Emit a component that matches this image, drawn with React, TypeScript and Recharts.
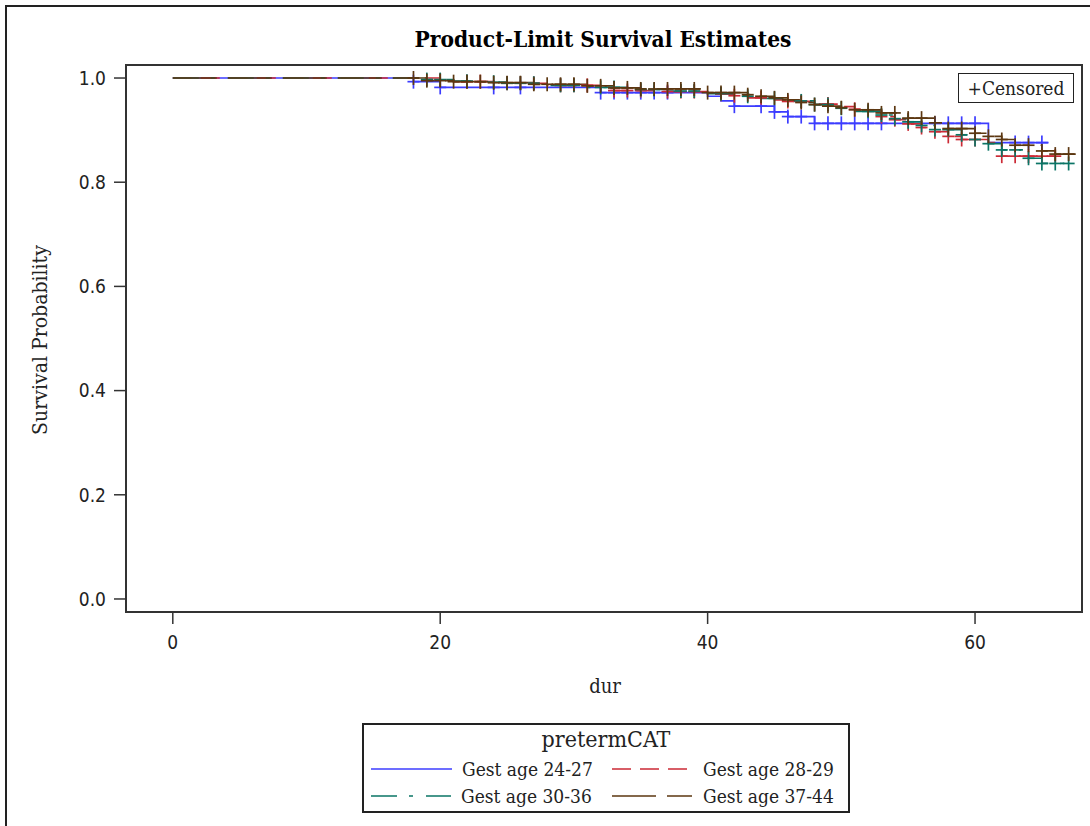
import React from "react";
import { ComposedChart, Line, Scatter, XAxis, YAxis, ReferenceArea } from "recharts";

// groups of preterm category
const groups = ["Gest age 24-27", "Gest age 28-29", "Gest age 30-36", "Gest age 37-44"];
const colors = ["#3c3cff", "#cc2a36", "#0b7566", "#5c3711"];
const dashes = ["", "19 9", "26 12 4 13", "44 11"];

// step changes (event times and survival after each event)
const times2427 = [0, 18, 20, 32, 40, 41, 42, 45, 46, 48, 61];
const surv2427 = [1, 0.993, 0.982, 0.972, 0.965, 0.956, 0.946, 0.935, 0.926, 0.913, 0.876];
const end2427 = 65.5;
const cens2427 = [18, 20, 24, 26, 32, 33, 34, 35, 36, 37, 42, 44, 45, 46, 47, 48, 49, 50, 51, 52, 53, 57, 58, 59, 60, 63, 64, 65];

const times2829 = [0, 20, 21, 24, 28, 32, 33, 36, 40, 42, 43, 45, 46, 48, 50, 51, 52, 53, 54, 55, 56, 57, 58, 59, 61, 62];
const surv2829 = [1, 0.996, 0.993, 0.99, 0.986, 0.98, 0.976, 0.974, 0.969, 0.966, 0.962, 0.958, 0.955, 0.95, 0.945, 0.94, 0.936, 0.926, 0.92, 0.912, 0.905, 0.897, 0.888, 0.882, 0.876, 0.85];
const end2829 = 66;
const cens2829 = [20, 22, 23, 25, 26, 27, 29, 30, 31, 33, 34, 35, 37, 38, 39, 41, 42, 44, 46, 47, 49, 51, 53, 54, 55, 56, 57, 58, 59, 60, 62, 63, 64, 65, 66];

const times3036 = [0, 19, 21, 23, 25, 28, 31, 34, 37, 40, 42, 44, 46, 48, 50, 51, 53, 54, 55, 56, 57, 59, 60, 61, 62, 64, 65];
const surv3036 = [1, 0.997, 0.994, 0.992, 0.99, 0.986, 0.982, 0.978, 0.975, 0.97, 0.965, 0.961, 0.956, 0.949, 0.942, 0.936, 0.929, 0.922, 0.916, 0.909, 0.901, 0.891, 0.882, 0.874, 0.862, 0.846, 0.836];
const end3036 = 67.5;
const cens3036 = [19, 20, 22, 24, 25, 26, 27, 29, 30, 32, 33, 35, 36, 38, 39, 41, 43, 45, 47, 48, 49, 50, 52, 53, 54, 55, 56, 57, 58, 59, 60, 61, 62, 63, 64, 65, 66, 67];

const times3744 = [0, 19, 21, 24, 27, 31, 33, 35, 40, 43, 44, 45, 46, 47, 48, 49, 50, 51, 53, 55, 57, 58, 60, 61, 62, 63, 65, 66];
const surv3744 = [1, 0.995, 0.993, 0.991, 0.988, 0.985, 0.981, 0.979, 0.972, 0.968, 0.965, 0.962, 0.958, 0.953, 0.949, 0.946, 0.943, 0.939, 0.933, 0.923, 0.914, 0.903, 0.894, 0.888, 0.882, 0.871, 0.86, 0.854];
const end3744 = 67.6;
const cens3744 = [18, 19, 20, 21, 22, 23, 24, 25, 26, 27, 28, 29, 30, 31, 32, 33, 34, 35, 36, 37, 38, 39, 40, 41, 42, 43, 44, 45, 46, 47, 48, 49, 50, 51, 52, 53, 54, 55, 56, 57, 58, 59, 60, 61, 62, 63, 64, 65, 66, 67];

const xTicks = [0, 20, 40, 60];
const yTicks = [0, 0.2, 0.4, 0.6, 0.8, 1.0];

const allTimes = [times2427, times2829, times3036, times3744];
const allSurv = [surv2427, surv2829, surv3036, surv3744];
const allEnds = [end2427, end2829, end3036, end3744];
const allCens = [cens2427, cens2829, cens3036, cens3744];

function stepAt(times: number[], surv: number[], t: number) {
  let v = surv[0];
  for (let i = 0; i < times.length; i++) {
    if (times[i] <= t) v = surv[i];
  }
  return v;
}

const lineData = allTimes.map((ts, g) =>
  ts.map((t, i) => ({ t, s: allSurv[g][i] })).concat([{ t: allEnds[g], s: allSurv[g][allSurv[g].length - 1] }])
);
const censData = allCens.map((cs, g) => cs.map((t) => ({ t, s: stepAt(allTimes[g], allSurv[g], t) })));

const serif = "'DejaVu Serif Condensed', 'DejaVu Serif', serif";
const tickFont = "'Liberation Sans Narrow', 'DejaVu Sans Condensed', sans-serif";
const ink = "#333";

const plusShape = (color: string) => (props: any) => {
  const { cx, cy } = props;
  return (
    <g>
      <line x1={cx - 6} x2={cx + 6} y1={cy} y2={cy} stroke={color} strokeWidth={1.7} />
      <line x1={cx} x2={cx} y1={cy - 7} y2={cy + 7} stroke={color} strokeWidth={1.7} />
    </g>
  );
};

function LegendSample({ color, dash, w }: { color: string; dash: string; w: number }) {
  return (
    <svg width={w} height={6} style={{ display: "block" }}>
      <line x1={0} x2={w} y1={3} y2={3} stroke={color} strokeWidth={1.7} strokeDasharray={dash || undefined} />
    </svg>
  );
}

export default function App() {
  const legendPos = [
    { x: 371, y: 769, w: 81 },
    { x: 612, y: 769, w: 75 },
    { x: 371, y: 796, w: 80 },
    { x: 612, y: 796, w: 80 },
  ];
  return (
    <div style={{ position: "absolute", left: 0, top: 0, width: 1090, height: 826, overflow: "hidden", background: "#fff" }}>
      <div style={{ position: "absolute", left: 5, top: 5, width: 1200, height: 1000, borderLeft: "2px solid #222", borderTop: "2px solid #222" }} />

      <div style={{ position: "absolute", left: 0, width: 1206, top: 26, textAlign: "center", fontFamily: serif, fontWeight: "bold", fontSize: 22.5, color: "#000" }}>
        Product-Limit Survival Estimates
      </div>

      <ComposedChart width={1090} height={826} margin={{ top: 65, right: 8, left: 66, bottom: 174 }} style={{ position: "absolute", left: 0, top: 0 }}>
        <XAxis
          dataKey="t"
          type="number"
          domain={[-3.5, 68]}
          allowDataOverflow
          ticks={xTicks}
          height={40}
          axisLine={false}
          tickSize={12}
          tickMargin={12}
          tickLine={{ stroke: ink, strokeWidth: 1.5 }}
          tick={{ fill: "#222", fontSize: 19, fontFamily: tickFont }}
        />
        <YAxis
          type="number"
          domain={[-0.025, 1.025]}
          allowDataOverflow
          ticks={yTicks}
          width={60}
          axisLine={false}
          tickSize={12}
          tickMargin={8}
          tickFormatter={(v: number) => v.toFixed(1)}
          tickLine={{ stroke: ink, strokeWidth: 1.5 }}
          tick={{ fill: "#222", fontSize: 19, fontFamily: tickFont }}
        />
        <ReferenceArea x1={-3.5} x2={68} y1={-0.025} y2={1.025} fill="none" stroke={ink} strokeWidth={2} ifOverflow="visible" />
        {groups.map((g, i) => (
          <Line
            key={"l" + g}
            data={lineData[i]}
            dataKey="s"
            type="stepAfter"
            stroke={colors[i]}
            strokeWidth={1.7}
            strokeDasharray={dashes[i] || undefined}
            dot={false}
            activeDot={false}
            isAnimationActive={false}
          />
        ))}
        {groups.map((g, i) => (
          <Scatter key={"c" + g} data={censData[i]} dataKey="s" shape={plusShape(colors[i])} isAnimationActive={false} />
        ))}
      </ComposedChart>

      <div style={{ position: "absolute", left: 958, top: 73, width: 114, height: 28, border: "1.5px solid #222", fontFamily: serif, fontSize: 19, lineHeight: "28px", textAlign: "center", color: "#222" }}>
        +Censored
      </div>

      <div style={{ position: "absolute", left: 0, width: 1210, top: 674, textAlign: "center", fontFamily: serif, fontSize: 20, color: "#222" }}>
        dur
      </div>
      <div style={{ position: "absolute", left: 40 - 150, top: 340 - 12, width: 300, height: 24, textAlign: "center", transform: "rotate(-90deg)", fontFamily: serif, fontSize: 21, lineHeight: "24px", color: "#222" }}>
        Survival Probability
      </div>

      <div style={{ position: "absolute", left: 362, top: 723, width: 484, height: 86, border: "2px solid #222" }} />
      <div style={{ position: "absolute", left: 362, width: 488, top: 726, textAlign: "center", fontFamily: serif, fontSize: 23, color: "#222" }}>
        pretermCAT
      </div>
      {groups.map((g, i) => (
        <div key={"lg" + g} style={{ position: "absolute", left: legendPos[i].x, top: legendPos[i].y - 12, height: 24, display: "flex", alignItems: "center" }}>
          <LegendSample color={colors[i]} dash={dashes[i]} w={legendPos[i].w} />
          <span style={{ marginLeft: i % 2 === 0 ? 10 : 91 - legendPos[i].w, fontFamily: serif, fontSize: 19, color: "#222", whiteSpace: "nowrap" }}>{g}</span>
        </div>
      ))}
    </div>
  );
}
